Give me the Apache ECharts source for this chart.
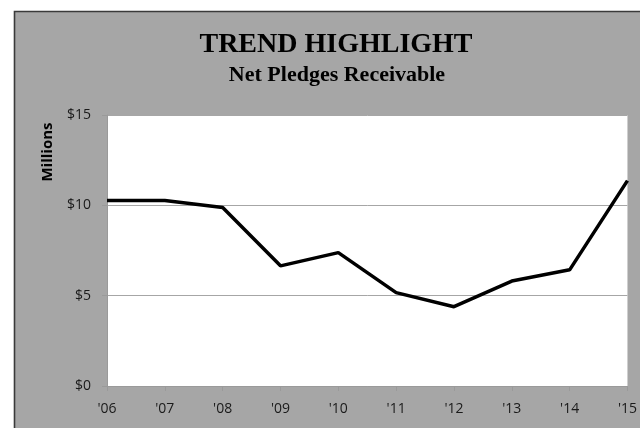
<!DOCTYPE html>
<html>
<head>
<meta charset="utf-8">
<script src="https://cdn.jsdelivr.net/npm/echarts@6/dist/echarts.min.js"></script>
<style>
html,body{margin:0;padding:0;background:#fff;}
#c{width:640px;height:428px;}
</style>
</head>
<body>
<div id="c"></div>
<script>
var categories = ["'06","'07","'08","'09","'10","'11","'12","'13","'14","'15"];
var netPledges = [10.27, 10.27, 9.88, 6.65, 7.38, 5.17, 4.39, 5.81, 6.43, 11.37];
var yTicks = [0, 5, 10, 15];
var titleText = 'TREND HIGHLIGHT';
var subtitleText = 'Net Pledges Receivable';
var yAxisName = 'Millions';

var chart = echarts.init(document.getElementById('c'), null, {renderer: 'canvas'});
chart.setOption({
  backgroundColor: '#ffffff',
  animation: false,
  graphic: [
    {type: 'rect', z: -10, silent: true,
     shape: {x: 14.5, y: 11.5, width: 700, height: 500},
     style: {fill: '#a6a6a6', stroke: '#3a3a3a', lineWidth: 1.6}},
    {type: 'text', z: 10, x: 336, y: 31,
     style: {text: titleText, font: 'bold 28px "Liberation Serif", "DejaVu Serif", serif', fill: '#000', textAlign: 'center'}},
    {type: 'text', z: 10, x: 337, y: 64,
     style: {text: subtitleText, font: 'bold 22px "Liberation Serif", "DejaVu Serif", serif', fill: '#000', textAlign: 'center'}},
    {type: 'text', z: 10, x: 48, y: 152, rotation: Math.PI / 2,
     style: {text: yAxisName, font: 'bold 15px "Open Sans", "Liberation Sans", sans-serif', fill: '#000', textAlign: 'center', textVerticalAlign: 'middle'}}
  ],
  grid: {left: 107, right: 12, top: 115, bottom: 42, show: true, backgroundColor: '#ffffff', borderWidth: 0},
  xAxis: {
    type: 'category',
    data: categories,
    boundaryGap: false,
    axisLine: {show: true, lineStyle: {color: '#9a9a9a', width: 1}},
    axisTick: {show: true, length: 5, lineStyle: {color: '#9a9a9a'}},
    axisLabel: {margin: 16, color: '#1a1a1a', fontSize: 14, fontFamily: '"Open Sans", "Liberation Sans", sans-serif'},
    splitLine: {show: false}
  },
  yAxis: {
    type: 'value',
    min: 0, max: 15, interval: 5,
    axisLine: {show: true, lineStyle: {color: '#9a9a9a', width: 1}},
    axisTick: {show: true, length: 5, lineStyle: {color: '#9a9a9a'}},
    axisLabel: {margin: 16, color: '#1a1a1a', fontSize: 14, fontFamily: '"Open Sans", "Liberation Sans", sans-serif',
      formatter: function (v) { return yTicks.indexOf(v) >= 0 ? '$' + v : ''; }},
    splitLine: {show: true, lineStyle: {color: '#a6a6a6', width: 1}}
  },
  series: [{
    type: 'line',
    data: netPledges,
    showSymbol: false,
    symbol: 'none',
    lineStyle: {color: '#000', width: 3.5},
    z: 5
  }]
});
</script>
</body>
</html>
